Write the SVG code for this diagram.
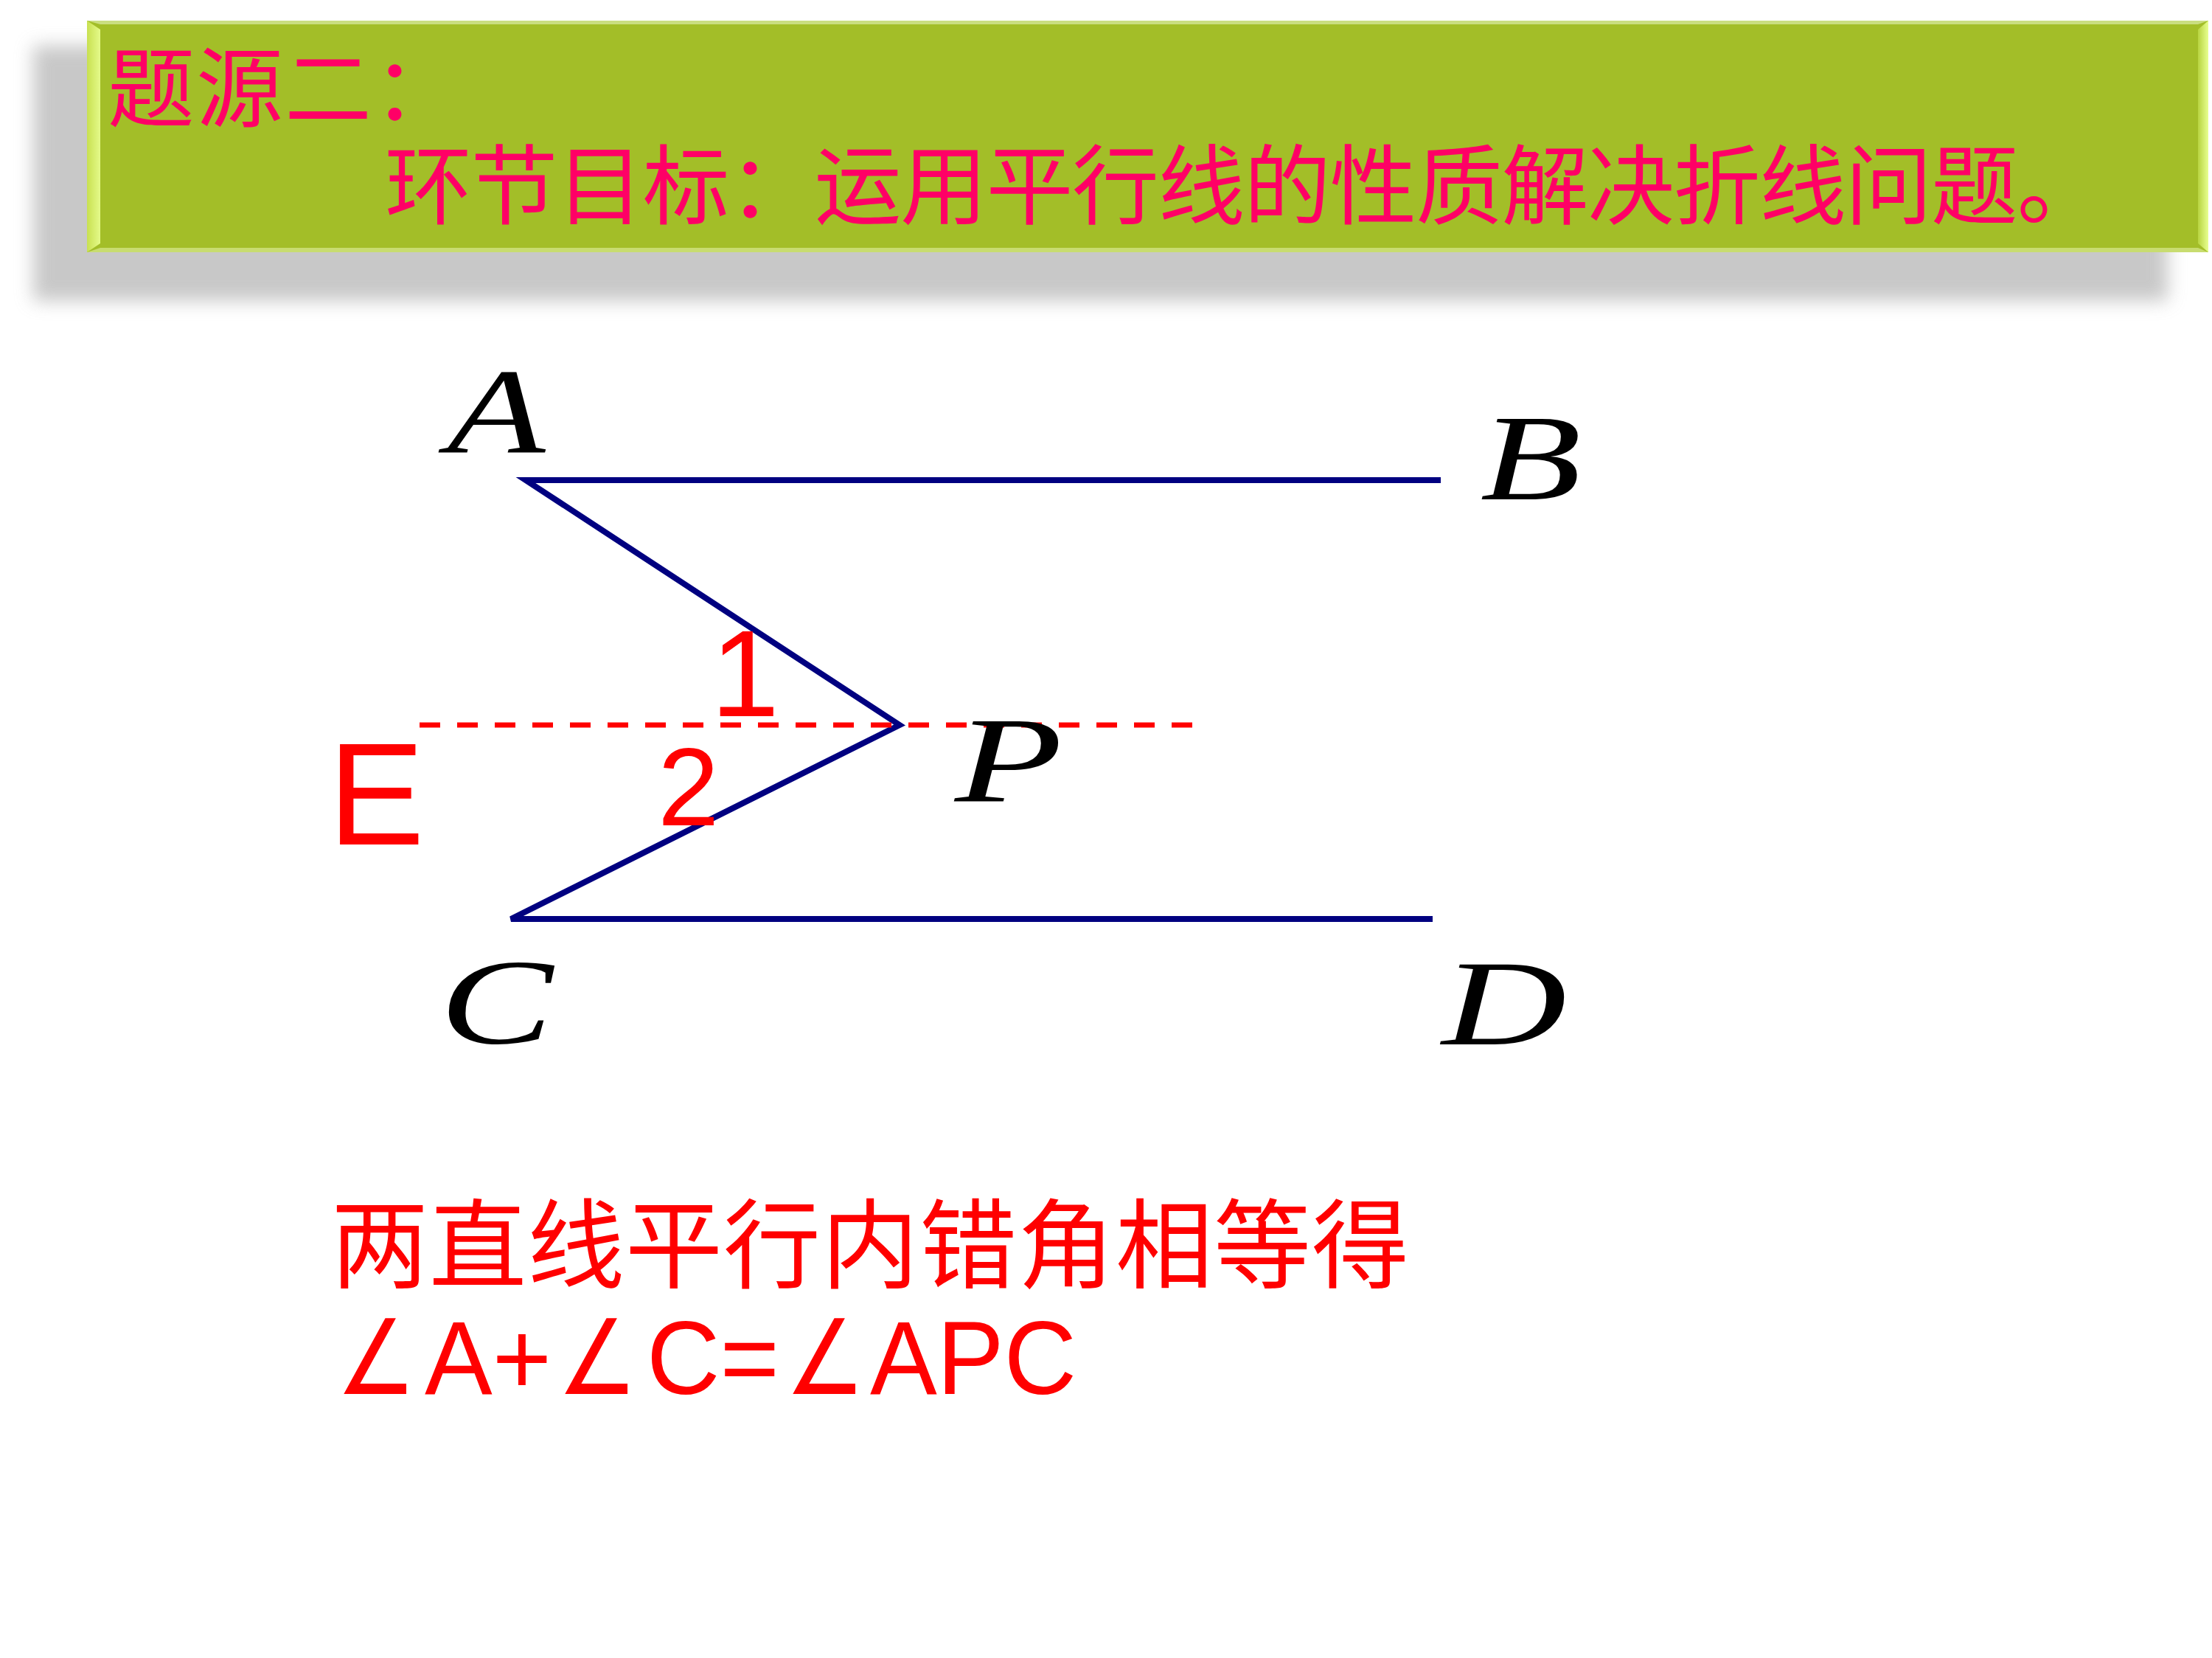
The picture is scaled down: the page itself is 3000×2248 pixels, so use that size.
<svg xmlns="http://www.w3.org/2000/svg" width="3000" height="2248" viewBox="0 0 3000 2248">
<defs>
<filter id="blur" x="-5%" y="-30%" width="110%" height="160%"><feGaussianBlur stdDeviation="12"/></filter>
<linearGradient id="lbev" x1="0" y1="0" x2="1" y2="0"><stop offset="0" stop-color="#C8E050"/><stop offset="1" stop-color="#E4FA8A"/></linearGradient>
<linearGradient id="rbev" x1="0" y1="0" x2="1" y2="0"><stop offset="0" stop-color="#B8D440"/><stop offset="1" stop-color="#E8FF90"/></linearGradient>
</defs>
<style>
.hdr{font-family:"Noto Sans CJK SC","Noto Sans CJK JP",sans-serif;font-size:118px;fill:#FF0066}
.pt{font-family:"Liberation Serif","Times New Roman",serif;font-style:italic;font-size:165px;fill:#000000}
.red{font-family:"Liberation Sans",Arial,sans-serif;fill:#FF0000}
.cjk{font-family:"Noto Sans CJK SC",sans-serif;fill:#FF0000}
.eq{font-family:"Liberation Sans",Arial,sans-serif;fill:#FF0000;font-size:141px}
.ang{font-family:"DejaVu Sans ExtraLight","DejaVu Sans",sans-serif;font-weight:200;fill:#FF0000;font-size:141px}
.seg{fill:none;stroke:#000080;stroke-width:8;stroke-linejoin:miter}
.dash{stroke:#FF0000;stroke-width:7;stroke-dasharray:28 23}
</style>
<rect width="3000" height="2248" fill="#FFFFFF"/>
<g id="header">
<rect x="45" y="62" width="2895" height="346" fill="#ABABAB" opacity="0.65" filter="url(#blur)"/>
<rect x="118" y="28" width="2877" height="314" fill="#A3BE28"/>
<polygon points="118,28 136,40 136,330 118,342" fill="url(#lbev)"/>
<polygon points="2995,28 2981,40 2981,330 2995,342" fill="url(#rbev)"/>
<polygon points="118,28 2995,28 2981,33 136,33" fill="#CADE80"/>
<polygon points="118,342 2995,342 2981,336 136,336" fill="#C8DC70"/>
<text class="hdr" x="146" y="163" letter-spacing="2">题源二：</text>
<text class="hdr" x="522" y="295" letter-spacing="-1.5">环节目标：运用平行线的性质解决折线问题。</text>
</g>
<g id="connectors">
<polyline class="seg" points="1954,651 713,651 1220,983 693,1246 1943,1246"/>
<line class="dash" x1="569" y1="983" x2="1620" y2="983"/>
</g>
<g id="label-A"><text class="pt" text-anchor="middle" transform="translate(673,614) scale(1.32,1)">A</text></g>
<g id="label-B"><text class="pt" text-anchor="middle" transform="translate(2076,677) scale(1.36,1)">B</text></g>
<g id="label-C"><text class="pt" text-anchor="middle" transform="translate(673,1414) scale(1.4,1)">C</text></g>
<g id="label-D"><text class="pt" text-anchor="middle" transform="translate(2040,1416) scale(1.42,1)">D</text></g>
<g id="label-P"><text class="pt" text-anchor="middle" transform="translate(1368,1087) scale(1.45,1)">P</text></g>
<g id="label-E"><text class="red" x="445" y="1145" font-size="196">E</text></g>
<g id="label-1"><text class="red" x="964" y="971" font-size="167">1</text></g>
<g id="label-2"><text class="red" x="892" y="1119" font-size="150">2</text></g>
<g id="conclusion">
<text class="cjk" x="449" y="1736" font-size="132" letter-spacing="1">两直线平行内错角相等得</text>
<text class="ang" x="456" y="1890" textLength="108" lengthAdjust="spacingAndGlyphs">∠</text>
<text class="eq" x="576" y="1890" textLength="172" lengthAdjust="spacingAndGlyphs">A+</text>
<text class="ang" x="756" y="1890" textLength="108" lengthAdjust="spacingAndGlyphs">∠</text>
<text class="eq" x="877" y="1890" textLength="180" lengthAdjust="spacingAndGlyphs">C=</text>
<text class="ang" x="1065" y="1890" textLength="108" lengthAdjust="spacingAndGlyphs">∠</text>
<text class="eq" x="1180" y="1890" textLength="280" lengthAdjust="spacingAndGlyphs">APC</text>
</g>
</svg>
